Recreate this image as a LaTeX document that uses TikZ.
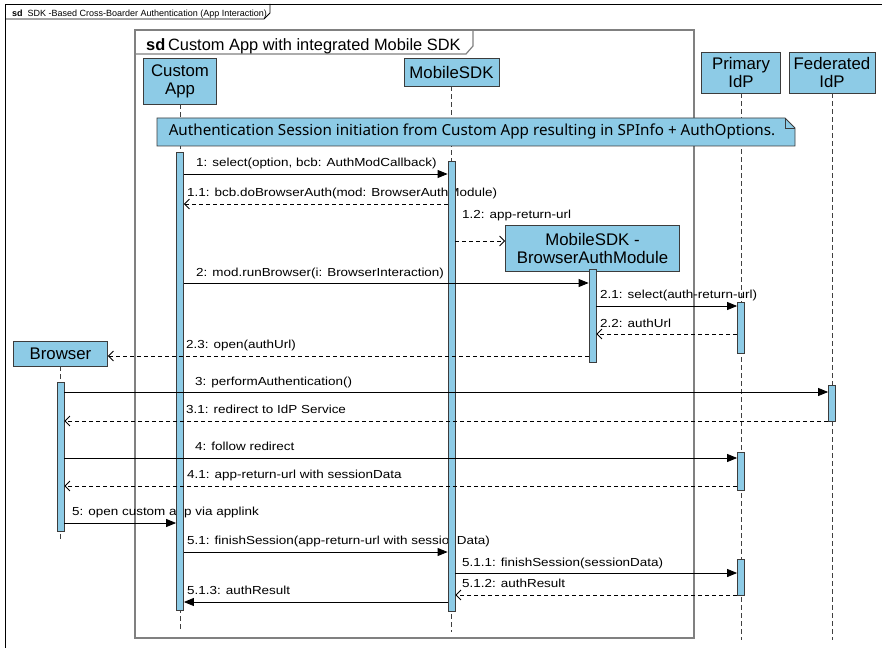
\documentclass[tikz,border=0pt]{standalone}
\usepackage{fontspec}
\setmainfont{Liberation Sans}
\newfontfamily\msgfont[FakeStretch=1.155]{Liberation Sans}
\newfontfamily\notefont{Noto Sans}
\usetikzlibrary{arrows.meta}
\definecolor{lifeblue}{RGB}{141,203,230}
\definecolor{edgegray}{RGB}{60,60,60}
\definecolor{framegray}{RGB}{128,128,128}

\begin{document}
\begin{tikzpicture}[x=1pt,y=-1pt,
  head/.style={draw=edgegray, fill=lifeblue, line width=0.8pt, inner sep=0pt,
    font=\fontsize{16.8}{18}\selectfont, align=center},
  actbar/.style={draw=edgegray, fill=lifeblue, line width=0.8pt,
    minimum width=7pt, inner sep=0pt},
  lifeline/.style={draw=black!75, dash pattern=on 5pt off 3pt, line width=0.8pt},
  call/.style={-{Triangle[length=10pt,width=8pt]}, line width=0.8pt},
  reply/.style={-{Straight Barb[length=5pt,width=10pt]}, dash pattern=on 4pt off 3pt, line width=0.8pt},
  msg/.style={font=\msgfont\fontsize{11.65}{13}\selectfont, anchor=base west, inner sep=0pt},
]
\clip (0,0) rectangle (882,647);

% outer sequence frame
\draw[line width=0.8pt] (5,4) rectangle (900,665);
\draw[line width=0.8pt] (5,19) -- (264,19) -- (270,13) -- (270,4);
\node[anchor=base west, inner sep=0pt, font=\fontsize{9}{10}\selectfont] (outerlbl) at (12,17)
  {\textbf{sd}\ \ SDK -Based Cross-Boarder Authentication (App Interaction)};

% inner frame
\draw[draw=framegray, line width=1.4pt] (135,30) rectangle (694,638);
\draw[draw=framegray, line width=1.2pt] (135,54) -- (466,54) -- (473,46) -- (473,30);
\node[anchor=base west, inner sep=0pt, font=\fontsize{16.4}{18}\selectfont] (innerlbl) at (146,51)
  {\textbf{sd}\,Custom App with integrated Mobile SDK};

% lifeline heads
\node[head, minimum width=73pt, minimum height=46pt] (cust) at (180,81) {Custom\\App};
\node[head, minimum width=95pt, minimum height=28pt] (msdk) at (451.5,72) {MobileSDK};
\node[head, minimum width=79pt, minimum height=41pt] (pidp) at (741,72.5) {Primary\\IdP};
\node[head, minimum width=86pt, minimum height=41pt] (fidp) at (832,72.5) {Federated\\IdP};
\node[head, minimum width=174pt, minimum height=46pt] (bam) at (592.5,248) {MobileSDK -\\BrowserAuthModule};
\node[head, minimum width=94pt, minimum height=25pt] (brow) at (60.5,353.5) {Browser};

% lifeline ends
\coordinate (custEnd) at (180,632);
\coordinate (msdkEnd) at (451.5,632);
\coordinate (pidpEnd) at (741,640);
\coordinate (fidpEnd) at (832,640);
\coordinate (browEnd) at (60.5,540);
\coordinate (bamEnd) at (592.5,360);

\draw[lifeline] (cust.south) -- (custEnd);
\draw[lifeline] (msdk.south) -- (msdkEnd);
\draw[lifeline] (pidp.south) -- (pidpEnd);
\draw[lifeline] (fidp.south) -- (fidpEnd);
\draw[lifeline] (brow.south) -- (browEnd);
\draw[lifeline] (bam.south) -- (bamEnd);

% message labels
\node[msg] (l1)   at (196,167) {1: select(option, bcb: AuthModCallback)};
\node[msg] (l11)  at (187,196) {1.1: bcb.doBrowserAuth(mod: BrowserAuthModule)};
\node[msg] (l12)  at (462,218) {1.2: app-return-url};
\node[msg] (l2)   at (196,276) {2: mod.runBrowser(i: BrowserInteraction)};
\node[msg] (l21)  at (600,298) {2.1: select(auth-return-url)};
\node[msg] (l22)  at (600,327) {2.2: authUrl};
\node[msg] (l23)  at (186,348) {2.3: open(authUrl)};
\node[msg] (l3)   at (195,385) {3: performAuthentication()};
\node[msg] (l31)  at (186,413) {3.1: redirect to IdP Service};
\node[msg] (l4)   at (195,450) {4: follow redirect};
\node[msg] (l41)  at (187,478) {4.1: app-return-url with sessionData};
\node[msg] (l5)   at (72,515)  {5: open custom app via applink};
\node[msg] (l51)  at (187,544) {5.1: finishSession(app-return-url with sessionData)};
\node[msg] (l511) at (462,566) {5.1.1: finishSession(sessionData)};
\node[msg] (l512) at (462,587) {5.1.2: authResult};
\node[msg] (l513) at (187,594) {5.1.3: authResult};

% activation bars
\node[actbar, minimum height=458pt] (ca)  at (180,381) {};
\node[actbar, minimum height=450pt] (ma)  at (451.5,386) {};
\node[actbar, minimum height=93pt]  (ba)  at (592.5,315.5) {};
\node[actbar, minimum height=51pt]  (pa1) at (741,327.5) {};
\node[actbar, minimum height=38pt]  (pa2) at (741,471) {};
\node[actbar, minimum height=36pt]  (pa3) at (741,577) {};
\node[actbar, minimum height=36pt]  (fa)  at (832,403) {};
\node[actbar, minimum height=149pt] (bra) at (60.5,456.5) {};

% messages
\draw[call]  (ca.east  |- 0,174) -- (ma.west  |- 0,174);
\draw[reply] (ma.west  |- 0,204) -- (ca.east  |- 0,204);
\draw[reply] (ma.east  |- 0,241) -- (bam.west |- 0,241);
\draw[call]  (ca.east  |- 0,283) -- (ba.west  |- 0,283);
\draw[call]  (ba.east  |- 0,306) -- (pa1.west |- 0,306);
\draw[reply] (pa1.west |- 0,334) -- (ba.east  |- 0,334);
\draw[reply] (ba.west  |- 0,356) -- (brow.east |- 0,356);
\draw[call]  (bra.east |- 0,392) -- (fa.west  |- 0,392);
\draw[reply] (fa.west  |- 0,421) -- (bra.east |- 0,421);
\draw[call]  (bra.east |- 0,458) -- (pa2.west |- 0,458);
\draw[reply] (pa2.west |- 0,486) -- (bra.east |- 0,486);
\draw[call]  (bra.east |- 0,523) -- (ca.west  |- 0,523);
\draw[call]  (ca.east  |- 0,552) -- (ma.west  |- 0,552);
\draw[call]  (ma.east  |- 0,573) -- (pa3.west |- 0,573);
\draw[reply] (pa3.west |- 0,595) -- (ma.east  |- 0,595);
\draw[call]  (ma.west  |- 0,602) -- (ca.east  |- 0,602);

% note with folded corner
\draw[draw=edgegray, fill=lifeblue, line width=0.8pt]
  (157,118) -- (785,118) -- (795,128) -- (795,146) -- (157,146) -- cycle;
\draw[draw=edgegray, line width=0.8pt] (785,118) -- (785,128) -- (795,128);
\node[inner sep=0pt, font=\notefont\fontsize{15.2}{17}\selectfont] (note) at (472,132)
  {Authentication Session initiation from Custom App resulting in SPInfo + AuthOptions.};
\end{tikzpicture}
\end{document}
